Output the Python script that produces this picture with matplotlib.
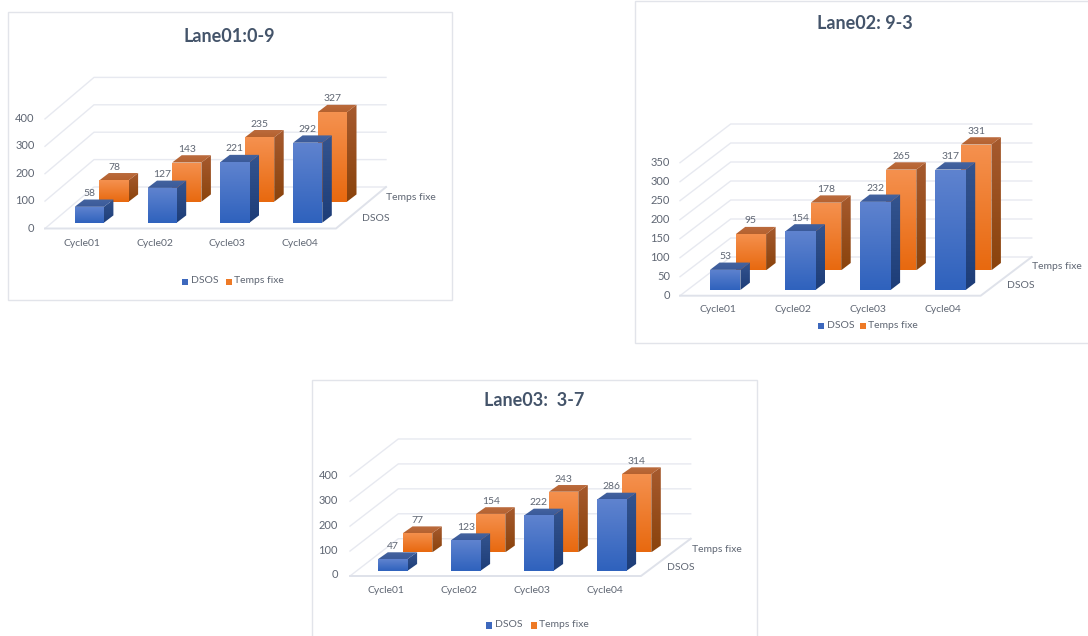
import matplotlib
matplotlib.use("Agg")
import matplotlib.pyplot as plt
import matplotlib.colors as mcolors
import numpy as np
from matplotlib.patches import Polygon, Rectangle

plt.rcParams['font.family'] = ['Lato', 'DejaVu Sans']

#Data
cycles = ["Cycle01", "Cycle02", "Cycle03", "Cycle04"]
series_names = ["DSOS", "Temps fixe"]

lane01_dsos = [58, 127, 221, 292]
lane01_fixe = [78, 143, 235, 327]
lane02_dsos = [53, 154, 232, 317]
lane02_fixe = [95, 178, 265, 331]
lane03_dsos = [47, 123, 222, 286]
lane03_fixe = [77, 154, 243, 314]

lane01_ticks = [0, 100, 200, 300, 400]
lane02_ticks = [0, 50, 100, 150, 200, 250, 300, 350]
lane03_ticks = [0, 100, 200, 300, 400]

TEXT = "#5f6673"
TITLE = "#44546a"
GRID = "#e7e9f0"
FRAME = "#e2e4ea"

BLUE = {"front": ("#5f83cf", "#2f62bd"), "side": ("#34548f", "#1d3d78"), "top": ("#45649f", "#3a5a9a")}
ORANGE = {"front": ("#f5914f", "#e8690f"), "side": ("#a65a2e", "#8a430c"), "top": ("#bb6b3e", "#b5622f")}

#Layout of each screenshot, all in pixels of the final picture
lane01 = dict(title="Lane01:0-9", title_xy=(229.7, 36.7), dsos=lane01_dsos, fixe=lane01_fixe, ticks=lane01_ticks,
              frame=(8, 12, 452, 300), floor=(45, 336, 228.5, 94, 386, 187), scale=0.274,
              bar_x=74.7, bar_w=29.2, step=72.8, bar_y=222.7, depth=(9.5, 7.3), offset=(24.7, -21),
              tick_x=34.5, tick_y=228, cat_y=243, temps_xy=(386, 197.3), dsos_xy=(361.7, 218.3),
              legend=(181.7, 225.7, 281.7))
lane02 = dict(title="Lane02: 9-3", title_xy=(865, 23.3), dsos=lane02_dsos, fixe=lane02_fixe, ticks=lane02_ticks,
              frame=(634.5, 1, 1100, 343), floor=(680, 980.7, 295.7, 730.7, 1031.7, 257), scale=0.38,
              bar_x=710, bar_w=30.4, step=75.1, bar_y=290, depth=(9.5, 7.3), offset=(25.7, -19.7),
              tick_x=670, tick_y=295.3, cat_y=309.3, temps_xy=(1032.3, 266.3), dsos_xy=(1006.7, 286),
              legend=(818.3, 860.3, 325.8))
lane03 = dict(title="Lane03:  3-7", title_xy=(534, 401), dsos=lane03_dsos, fixe=lane03_fixe, ticks=lane03_ticks,
              frame=(311.5, 380, 757, 650), floor=(350, 641, 576, 398.3, 690.7, 538.7), scale=0.2493,
              bar_x=378.3, bar_w=29.3, step=73, bar_y=570.7, depth=(9.5, 6.7), offset=(24.7, -18.4),
              tick_x=338, tick_y=575, cat_y=590.7, temps_xy=(691.7, 549), dsos_xy=(666.7, 567.7),
              legend=(486.3, 530.7, 625.6))


def gradient_face(ax, pts, colors, zorder):
    #vertical gradient clipped to the face
    top = np.array(mcolors.to_rgb(colors[0]))
    bottom = np.array(mcolors.to_rgb(colors[1]))
    t = np.linspace(0, 1, 64)[:, None, None]
    img = top * (1 - t) + bottom * t
    xs = [p[0] for p in pts]
    ys = [p[1] for p in pts]
    im = ax.imshow(img, extent=(min(xs), max(xs), max(ys), min(ys)), aspect="auto",
                   interpolation="bilinear", zorder=zorder)
    clip = Polygon(pts, closed=True, transform=ax.transData, facecolor="none", edgecolor="none")
    ax.add_patch(clip)
    im.set_clip_path(clip)


def draw_bar(ax, x, base, height, p, colors, zorder):
    w = p["bar_w"]
    dx, dy = p["depth"]
    y = base - height
    gradient_face(ax, [(x, y), (x + w, y), (x + w, base), (x, base)], colors["front"], zorder)
    gradient_face(ax, [(x + w, y), (x + w + dx, y - dy), (x + w + dx, base - dy), (x + w, base)], colors["side"], zorder)
    gradient_face(ax, [(x, y), (x + dx, y - dy), (x + w + dx, y - dy), (x + w, y)], colors["top"], zorder)


def draw_lane(ax, p):
    x0, y0, x1, y1 = p["frame"]
    ax.add_patch(Rectangle((x0, y0), x1 - x0, y1 - y0, facecolor="white", edgecolor=FRAME, lw=1, zorder=1))
    ax.text(p["title_xy"][0], p["title_xy"][1], p["title"], ha="center", va="center", fontsize=13,
            fontweight="bold", color=TITLE, zorder=10)

    fl, fr, fy, bl, br, by = p["floor"]
    scale = p["scale"]

    #walls and floor
    for tick in p["ticks"]:
        h = tick * scale
        ax.plot([fl, bl, br], [fy - h, by - h, by - h], color=GRID, lw=1, zorder=2)
        ax.text(p["tick_x"], p["tick_y"] - h, str(tick), ha="right", va="center", fontsize=8, color=TEXT, zorder=10)
    ax.plot([fl, fr, br], [fy, fy, by], color="#dfe2ea", lw=1.4, zorder=2)

    #back row first so the front row covers it
    dx, dy = p["offset"]
    for i in range(len(cycles)):
        x = p["bar_x"] + i * p["step"]
        draw_bar(ax, x + dx, p["bar_y"] + dy, p["fixe"][i] * scale, p, ORANGE, 3 + i * 0.1)
        draw_bar(ax, x, p["bar_y"], p["dsos"][i] * scale, p, BLUE, 3.05 + i * 0.1)

    w = p["bar_w"]
    for i, name in enumerate(cycles):
        x = p["bar_x"] + i * p["step"]
        ax.text(x + w / 2 - 7.5, p["cat_y"], name, ha="center", va="center", fontsize=7.5, color=TEXT, zorder=10)
        top_a = p["bar_y"] - p["dsos"][i] * scale - p["depth"][1] - 6
        top_b = p["bar_y"] + dy - p["fixe"][i] * scale - p["depth"][1] - 6
        ax.text(x + w / 2, top_a, str(p["dsos"][i]), ha="center", va="center", fontsize=7.5, color=TEXT, zorder=10)
        ax.text(x + dx + w / 2, top_b, str(p["fixe"][i]), ha="center", va="center", fontsize=7.5, color=TEXT, zorder=10)

    ax.text(p["temps_xy"][0], p["temps_xy"][1], series_names[1], ha="left", va="center", fontsize=7.5, color=TEXT, zorder=10)
    ax.text(p["dsos_xy"][0], p["dsos_xy"][1], series_names[0], ha="left", va="center", fontsize=7.5, color=TEXT, zorder=10)

    #legend
    lx_a, lx_b, ly = p["legend"]
    ax.add_patch(Rectangle((lx_a, ly - 3.2), 6, 6.4, facecolor="#3d68bd", edgecolor="none", zorder=10))
    ax.add_patch(Rectangle((lx_b, ly - 3.2), 6, 6.4, facecolor="#ee7a26", edgecolor="none", zorder=10))
    ax.text(lx_a + 9, ly - 0.8, series_names[0], ha="left", va="center", fontsize=7.5, color=TEXT, zorder=10)
    ax.text(lx_b + 8, ly - 0.8, series_names[1], ha="left", va="center", fontsize=7.5, color=TEXT, zorder=10)


fig = plt.figure(figsize=(10.88, 6.36), dpi=100)
ax = fig.add_axes([0, 0, 1, 1])
ax.set_autoscale_on(False)
ax.set_xlim(0, 1088)
ax.set_ylim(636, 0)
ax.axis("off")

for lane in [lane01, lane02, lane03]:
    draw_lane(ax, lane)

fig.savefig("out.png", dpi=100)
